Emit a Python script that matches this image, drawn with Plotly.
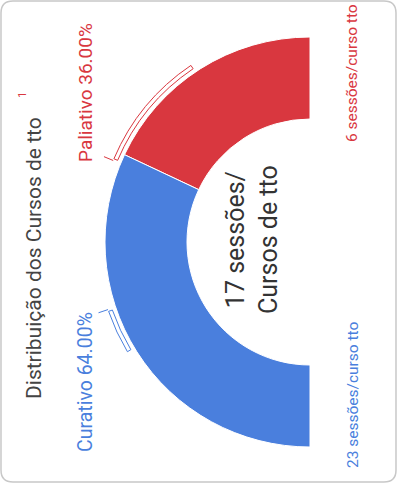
import plotly.graph_objects as go

W, H = 398, 484

# ---- data ----
categories = ["Paliativo", "Curativo"]
percentages = [36.00, 64.00]
sessions_per_course = [6, 23]
colors = ["#d9373f", "#4a7fdd"]
center_value = 17
title_text = "Distribuição dos Cursos de tto"

# ---- geometry helpers (pixel space) ----
def px(x):
    return x / W

def py(y):
    return 1 - y / H

R_MAX = 228          # radial axis maximum (px)
R_IN, R_OUT = 123, 205

fig = go.Figure()

# Semi-donut slices computed from the data (left half, starting at top)
total = sum(percentages)
start = 90.0
for cat, val, col in zip(categories, percentages, colors):
    span = 180.0 * val / total
    fig.add_trace(go.Barpolar(
        theta=[start + span / 2], width=[span],
        r=[R_OUT - R_IN], base=[R_IN],
        marker=dict(color=col, line=dict(color="white", width=1)),
        hoverinfo="skip", showlegend=False,
    ))
    start += span

# Callout brackets
brackets = [
    dict(t0=124, t1=157, tick=157.5, col=colors[0]),
    dict(t0=199, t1=211, tick=198.5, col=colors[1]),
]
for b in brackets:
    fig.add_trace(go.Barpolar(
        theta=[(b["t0"] + b["t1"]) / 2], width=[b["t1"] - b["t0"]],
        r=[4], base=[209],
        marker=dict(color="white", line=dict(color=b["col"], width=1)),
        hoverinfo="skip", showlegend=False,
    ))
    fig.add_trace(go.Scatterpolar(
        theta=[b["tick"], b["tick"]], r=[213, 223], mode="lines",
        line=dict(color=b["col"], width=1), hoverinfo="skip",
        showlegend=False, cliponaxis=False,
    ))

fig.update_layout(
    width=W, height=H,
    margin=dict(l=0, r=0, t=0, b=0),
    paper_bgcolor="white",
    polar=dict(
        domain=dict(x=[px(310 - R_MAX), px(310)], y=[py(242 + R_MAX), py(242 - R_MAX)]),
        sector=[90, 270],
        bgcolor="white",
        radialaxis=dict(visible=False, range=[0, R_MAX]),
        angularaxis=dict(visible=False, rotation=0, direction="counterclockwise"),
        bargap=0,
    ),
    font=dict(family="Roboto, Noto Sans, sans-serif"),
)

ann = []
# title
ann.append(dict(x=px(34), y=py(258), text=title_text, textangle=-90,
                font=dict(size=21, color="#444444")))
ann.append(dict(x=px(22), y=py(95), text="1", textangle=-90,
                font=dict(size=11, color=colors[0])))
# slice labels
ann.append(dict(x=px(86), y=py(93), text=f"{categories[0]} {percentages[0]:.2f}%",
                textangle=-90, font=dict(size=19, color=colors[0])))
ann.append(dict(x=px(85), y=py(382), text=f"{categories[1]} {percentages[1]:.2f}%",
                textangle=-90, font=dict(size=19.5, color=colors[1])))
# center text
ann.append(dict(x=px(252), y=py(240), text=f"{center_value} sessões/<br>Cursos de tto",
                textangle=-90, font=dict(size=25, color="#333333")))
# sessions per course
ann.append(dict(x=px(352), y=py(73), text=f"{sessions_per_course[0]} sessões/curso tto",
                textangle=-90, font=dict(size=15.5, color=colors[0])))
ann.append(dict(x=px(353), y=py(395), text=f"{sessions_per_course[1]} sessões/curso tto",
                textangle=-90, font=dict(size=15.5, color=colors[1])))

for a in ann:
    a.update(xref="paper", yref="paper", showarrow=False, xanchor="center", yanchor="middle")
fig.update_layout(annotations=ann)

# card border
r = 12
x0, x1, y0, y1 = 1, 396, 1, 482
path = (f"M {x0+r},{y0} L {x1-r},{y0} Q {x1},{y0} {x1},{y0+r} L {x1},{y1-r} "
        f"Q {x1},{y1} {x1-r},{y1} L {x0+r},{y1} Q {x0},{y1} {x0},{y1-r} "
        f"L {x0},{y0+r} Q {x0},{y0} {x0+r},{y0} Z")
# convert to paper coords
def conv(p):
    out = []
    for tok in p.split(" "):
        if "," in tok:
            a, b = tok.split(",")
            out.append(f"{px(float(a)):.5f},{py(float(b)):.5f}")
        else:
            out.append(tok)
    return " ".join(out)
fig.add_shape(type="path", path=conv(path), xref="paper", yref="paper",
              line=dict(color="#c8c8c8", width=1.5))

fig.write_html("out.html")
